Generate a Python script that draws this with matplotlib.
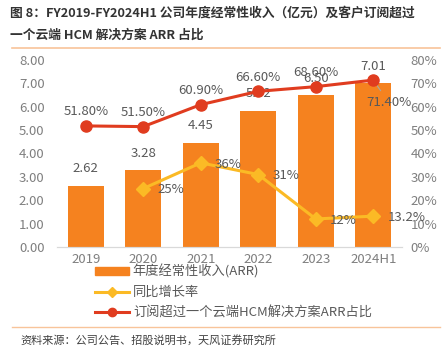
import matplotlib
matplotlib.use("Agg")
import matplotlib.pyplot as plt
from matplotlib.lines import Line2D
from matplotlib.patches import Patch

plt.rcParams['font.family'] = ['Noto Sans CJK SC', 'DejaVu Sans']

# datos
anios = ["2019", "2020", "2021", "2022", "2023", "2024H1"]
arr = [2.62, 3.28, 4.45, 5.82, 6.50, 7.01]
crecimiento = [None, 25, 36, 31, 12, 13.2]
crecimiento_txt = ["", "25%", "36%", "31%", "12%", "13.2%"]
ratio = [51.8, 51.5, 60.9, 66.6, 68.6, 71.4]

naranja = "#F5821F"
amarillo = "#FBBA25"
rojo = "#E03C1F"
gris = "#7F7F7F"
texto = "#595959"

fig = plt.figure(figsize=(4.44, 3.52), dpi=100)
ax = fig.add_axes([57/444, 1-247/352, 345/444, 187/352])
ax2 = ax.twinx()

x = list(range(len(anios)))
ax.bar(x, arr, width=0.63, color=naranja, zorder=2)
for i, v in enumerate(arr):
    ax.text(i, v + 0.45, f"{v:.2f}", ha="center", va="bottom", fontsize=9.5, color=texto)

ax.set_ylim(0, 8)
ax.set_xlim(-0.5, 5.5)
ax.set_yticks([i for i in range(9)])
ax.set_yticklabels([f"{i:.2f}" for i in range(9)])
ax.set_xticks(x)
ax.set_xticklabels(anios)

# lineas en eje derecho
xc = [i for i, v in enumerate(crecimiento) if v is not None]
yc = [v for v in crecimiento if v is not None]
ax2.plot(xc, yc, color=amarillo, lw=2.2, marker="D", ms=7, zorder=3)
ax2.plot(x, ratio, color=rojo, lw=2.2, marker="o", ms=8, zorder=4)
ax2.set_ylim(0, 80)
ax2.set_yticks(range(0, 81, 10))
ax2.set_yticklabels([f"{i}%" for i in range(0, 81, 10)])

for i, v in enumerate(crecimiento):
    if v is None:
        continue
    ax2.text(i + 0.25, v - 0.5, crecimiento_txt[i], ha="left", va="center", fontsize=9.5, color=texto)

for i, v in enumerate(ratio):
    if i == len(ratio) - 1:
        ax2.annotate(f"{v:.2f}%", xy=(i, v), xytext=(i + 0.27, v - 9.5),
                     ha="center", va="center", fontsize=9.5, color=texto,
                     arrowprops=dict(arrowstyle="-", color="#A6A6A6", lw=0.8))
    else:
        ax2.text(i, v + 3.2, f"{v:.2f}%", ha="center", va="bottom", fontsize=9.5, color=texto)

for a in (ax, ax2):
    for s in ("top", "left", "right"):
        a.spines[s].set_visible(False)
    a.spines["bottom"].set_color("#D9D9D9")
    a.tick_params(length=0, labelsize=9.5, colors=gris)
ax.tick_params(axis="y", pad=9)
ax2.tick_params(axis="y", pad=6)
ax.tick_params(axis="x", pad=4)

handles = [
    Patch(color=naranja, label="年度经常性收入(ARR)"),
    Line2D([], [], color=amarillo, lw=2.2, marker="D", ms=5, label="同比增长率"),
    Line2D([], [], color=rojo, lw=2.2, marker="o", ms=6, label="订阅超过一个云端HCM解决方案ARR占比"),
]
fig.legend(handles=handles, loc="upper left", bbox_to_anchor=(88/444, 1-258/352),
           frameon=False, fontsize=9.5, labelcolor=texto, handlelength=2.6,
           handleheight=0.5, handletextpad=0.3, labelspacing=0.55, borderpad=0)

# titulo y fuente
fig.text(10/444, 1-13/352, "图 8：FY2019-FY2024H1 公司年度经常性收入（亿元）及客户订阅超过",
         ha="left", va="center", fontsize=9.2, fontweight="bold", color="#333333")
fig.text(10/444, 1-35/352, "一个云端 HCM 解决方案 ARR 占比",
         ha="left", va="center", fontsize=9.2, fontweight="bold", color="#333333")
fig.add_artist(Line2D([12/444, 440/444], [1-48/352, 1-48/352], color="#F8C49A", lw=1.2))
fig.add_artist(Line2D([12/444, 440/444], [1-327/352, 1-327/352], color="#F8C49A", lw=1.0))
fig.text(20/444, 1-340/352, "资料来源：公司公告、招股说明书，天风证券研究所",
         ha="left", va="center", fontsize=8, color="#404040")

fig.savefig("out.png", dpi=100)
